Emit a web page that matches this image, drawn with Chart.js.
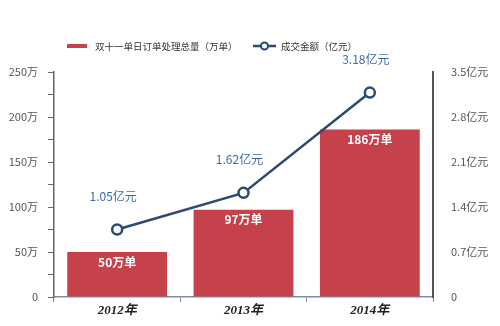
<!DOCTYPE html>
<html>
<head>
<meta charset="utf-8">
<script src="https://cdn.jsdelivr.net/npm/chart.js@4"></script>
<style>
  body { margin: 0; background: #fff; }
  #wrap { width: 500px; height: 326px; position: relative; }
</style>
</head>
<body>
<div id="wrap"><canvas id="grafico"></canvas></div>
<script>
// datos del gráfico
const categorias = ['2012年', '2013年', '2014年'];
const pedidos = [50, 97, 186];            // 万单
const pedidosEtiquetas = ['50万单', '97万单', '186万单'];
const ventas = [1.05, 1.62, 3.18];        // 亿元
const ventasEtiquetas = ['1.05亿元', '1.62亿元', '3.18亿元'];
const ticksIzq = [0, 25, 50, 75, 100, 125, 150, 175, 200, 225, 250];
const ticksDer = [0, 0.7, 1.4, 2.1, 2.8, 3.5];
const leyendaBarra = '双十一单日订单处理总量（万单）';
const leyendaLinea = '成交金额（亿元）';

const ROJO = '#c5424b';
const AZUL_LINEA = '#2c4a72';
const AZUL_TEXTO = '#3b6aa9';
const CJK = "'Noto Sans CJK SC', 'Noto Sans', sans-serif";

// plugin sencillo para etiquetas y leyenda
const etiquetas = {
    id: 'etiquetas',
    afterDatasetsDraw(chart) {
        const ctx = chart.ctx;
        ctx.save();
        ctx.textAlign = 'center';
        ctx.textBaseline = 'middle';

        // texto dentro de las barras
        ctx.fillStyle = '#ffffff';
        ctx.font = 'bold 12px ' + CJK;
        chart.getDatasetMeta(0).data.forEach(function(el, i) {
            ctx.fillText(pedidosEtiquetas[i], el.x, el.y + 10);
        });

        // texto encima de los puntos
        ctx.fillStyle = AZUL_TEXTO;
        ctx.font = '12px ' + CJK;
        chart.getDatasetMeta(1).data.forEach(function(el, i) {
            ctx.fillText(ventasEtiquetas[i], el.x - 4, el.y - 33);
        });
        ctx.restore();
    },
    afterDraw(chart) {
        const ctx = chart.ctx;
        ctx.save();
        ctx.textBaseline = 'middle';
        ctx.font = '9.5px ' + CJK;

        // leyenda barras
        ctx.fillStyle = ROJO;
        ctx.fillRect(67, 44, 20, 4);
        ctx.fillStyle = '#333';
        ctx.fillText(leyendaBarra, 95, 46);

        // leyenda línea
        ctx.strokeStyle = AZUL_LINEA;
        ctx.lineWidth = 2.5;
        ctx.beginPath();
        ctx.moveTo(253, 46);
        ctx.lineTo(276, 46);
        ctx.stroke();
        ctx.beginPath();
        ctx.arc(264.5, 46, 3.5, 0, Math.PI * 2);
        ctx.fillStyle = '#fff';
        ctx.fill();
        ctx.lineWidth = 2;
        ctx.stroke();
        ctx.fillStyle = '#333';
        ctx.fillText(leyendaLinea, 281, 46);
        ctx.restore();
    }
};

const ctx = document.getElementById('grafico');

new Chart(ctx, {
    type: 'bar',
    data: {
        labels: categorias,
        datasets: [{
            label: leyendaBarra,
            data: pedidos,
            backgroundColor: ROJO,
            yAxisID: 'y',
            order: 1,
            barPercentage: 1,
            categoryPercentage: 0.79
        }, {
            type: 'line',
            label: leyendaLinea,
            data: ventas,
            yAxisID: 'y1',
            order: 0,
            borderColor: AZUL_LINEA,
            borderWidth: 2.5,
            pointRadius: 5,
            pointBorderWidth: 2.5,
            pointBackgroundColor: '#fff',
            pointBorderColor: AZUL_LINEA,
            tension: 0
        }]
    },
    options: {
        responsive: true,
        maintainAspectRatio: false,
        animation: false,
        layout: { padding: { top: 72, left: 0, right: 0, bottom: 0 } },
        plugins: {
            legend: { display: false },
            tooltip: { enabled: false }
        },
        scales: {
            x: {
                afterFit: function(s) { s.height = 29; },
                grid: {
                    offset: true,
                    drawOnChartArea: false,
                    tickLength: 5,
                    color: '#7d8ca3'
                },
                border: { color: '#7d8ca3', width: 1.5 },
                ticks: {
                    color: '#222',
                    padding: 1,
                    font: { family: "'Liberation Serif', " + CJK, size: 13, style: 'italic', weight: 'bold' }
                }
            },
            y: {
                position: 'left',
                min: 0,
                max: 250,
                afterFit: function(s) { s.width = 54; },
                afterBuildTicks: function(s) { s.ticks = ticksIzq.map(v => ({ value: v })); },
                grid: {
                    drawOnChartArea: false,
                    tickLength: 6,
                    color: '#666'
                },
                border: { color: '#666', width: 1.5 },
                ticks: {
                    color: '#555',
                    padding: 10,
                    font: { family: CJK, size: 11 },
                    callback: function(v) {
                        if (v % 50 !== 0) return '';
                        return v === 0 ? '0' : v + '万';
                    }
                }
            },
            y1: {
                position: 'right',
                min: 0,
                max: 3.5,
                afterFit: function(s) { s.width = 67; },
                afterBuildTicks: function(s) { s.ticks = ticksDer.map(v => ({ value: v })); },
                grid: { display: false },
                border: { color: '#555', width: 2 },
                ticks: {
                    color: '#555',
                    padding: 10,
                    font: { family: CJK, size: 11 },
                    callback: function(v) {
                        return v === 0 ? '0' : v.toFixed(1) + '亿元';
                    }
                }
            }
        }
    },
    plugins: [etiquetas]
});
</script>
</body>
</html>
